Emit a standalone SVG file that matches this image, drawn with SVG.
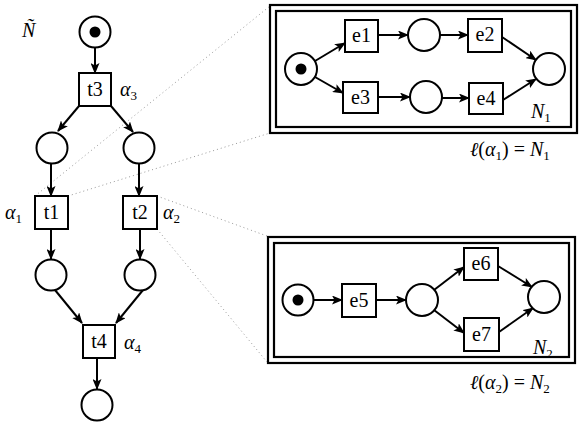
<svg xmlns="http://www.w3.org/2000/svg" width="581" height="427" viewBox="0 0 581 427">
<style>
.pl{fill:#fff;stroke:#000;stroke-width:2}
.tr{fill:#fff;stroke:#000;stroke-width:2}
.tk{fill:#000}
.lb{font-family:"Liberation Serif","DejaVu Serif",serif;font-size:20px;fill:#000;text-anchor:middle}
.m{font-family:"Liberation Serif","DejaVu Serif",serif;font-size:20px;font-style:italic;fill:#000}
.r{font-family:"Liberation Serif","DejaVu Serif",serif;font-size:20px;fill:#000}
.sub{font-size:13px;font-style:normal}
.e{fill:none;stroke:#000;stroke-width:2;marker-end:url(#ah)}
.d{fill:none;stroke:#999;stroke-width:1;stroke-dasharray:1 3}
.fr{fill:none;stroke:#000;stroke-width:2.2}
</style>
<defs>
<marker id="ah" markerUnits="userSpaceOnUse" markerWidth="11" markerHeight="9" refX="10" refY="4.5" orient="auto">
<path d="M0,0 L11,4.5 L0,9 L2.5,4.5 z" fill="#000"/>
</marker>
</defs>
<rect width="581" height="427" fill="#fff"/>

<g id="dotted">
<line class="d" x1="35" y1="196" x2="270" y2="6"/>
<line class="d" x1="68" y1="196" x2="270" y2="133"/>
<line class="d" x1="157" y1="196" x2="267" y2="236"/>
<line class="d" x1="157" y1="229" x2="267" y2="362"/>
</g>

<g id="frames">
<rect class="fr" x="270" y="5" width="307" height="128"/>
<rect class="fr" x="276" y="11" width="295" height="116"/>
<rect class="fr" x="268" y="237" width="307" height="126"/>
<rect class="fr" x="274" y="243" width="295" height="114"/>
</g>

<g id="connectors">
<line class="e" x1="95" y1="48" x2="95" y2="73"/>
<line class="e" x1="79" y1="106" x2="58" y2="131"/>
<line class="e" x1="111" y1="106" x2="133" y2="132"/>
<line class="e" x1="51" y1="164" x2="51" y2="196"/>
<line class="e" x1="139" y1="164" x2="139" y2="196"/>
<line class="e" x1="51" y1="229" x2="51" y2="259"/>
<line class="e" x1="140" y1="229" x2="140" y2="259"/>
<line class="e" x1="55" y1="290" x2="82" y2="323"/>
<line class="e" x1="143" y1="290" x2="116" y2="323"/>
<line class="e" x1="97" y1="358" x2="97" y2="389"/>

<line class="e" x1="315" y1="61" x2="345" y2="43"/>
<line class="e" x1="315" y1="77" x2="343" y2="93"/>
<line class="e" x1="378" y1="35" x2="408" y2="35"/>
<line class="e" x1="440" y1="35" x2="468" y2="35"/>
<line class="e" x1="502" y1="37" x2="536" y2="60"/>
<line class="e" x1="378" y1="97" x2="410" y2="97"/>
<line class="e" x1="442" y1="98" x2="469" y2="98"/>
<line class="e" x1="503" y1="100" x2="536" y2="79"/>

<line class="e" x1="313" y1="300" x2="342" y2="300"/>
<line class="e" x1="376" y1="300" x2="406" y2="300"/>
<line class="e" x1="434" y1="290" x2="464" y2="267"/>
<line class="e" x1="434" y1="310" x2="464" y2="333"/>
<line class="e" x1="498" y1="266" x2="532" y2="287"/>
<line class="e" x1="499" y1="332" x2="533" y2="308"/>
</g>

<g id="p0"><circle class="pl" cx="95" cy="32" r="15.5"/><circle class="tk" cx="95" cy="32" r="5.5"/></g>
<g id="t3"><rect class="tr" x="79" y="73" width="32" height="33"/><text class="lb" x="95" y="96">t3</text></g>
<g id="p1"><circle class="pl" cx="52" cy="148" r="15.5"/></g>
<g id="p2"><circle class="pl" cx="139" cy="148" r="15.5"/></g>
<g id="t1"><rect class="tr" x="35" y="196" width="33" height="33"/><text class="lb" x="51.5" y="219">t1</text></g>
<g id="t2"><rect class="tr" x="123" y="196" width="34" height="33"/><text class="lb" x="140" y="219">t2</text></g>
<g id="p3"><circle class="pl" cx="51" cy="275" r="15.5"/></g>
<g id="p4"><circle class="pl" cx="140" cy="275" r="15.5"/></g>
<g id="t4"><rect class="tr" x="83" y="325" width="32" height="33"/><text class="lb" x="99" y="348">t4</text></g>
<g id="p5"><circle class="pl" cx="97" cy="405" r="15.5"/></g>

<g id="n1p0"><circle class="pl" cx="301" cy="69" r="16"/><circle class="tk" cx="301" cy="69" r="5.5"/></g>
<g id="e1"><rect class="tr" x="345" y="20" width="33" height="32"/><text class="lb" x="361.5" y="42">e1</text></g>
<g id="n1p1"><circle class="pl" cx="424" cy="35" r="16"/></g>
<g id="e2"><rect class="tr" x="468" y="19" width="34" height="33"/><text class="lb" x="485" y="41">e2</text></g>
<g id="n1p3"><circle class="pl" cx="549" cy="69" r="16"/></g>
<g id="e3"><rect class="tr" x="343" y="82" width="35" height="31"/><text class="lb" x="360.5" y="104">e3</text></g>
<g id="n1p2"><circle class="pl" cx="426" cy="97" r="16"/></g>
<g id="e4"><rect class="tr" x="469" y="83" width="34" height="31"/><text class="lb" x="486" y="105">e4</text></g>

<g id="n2p0"><circle class="pl" cx="298" cy="300" r="15.5"/><circle class="tk" cx="298" cy="300" r="5.5"/></g>
<g id="e5"><rect class="tr" x="342" y="284" width="34" height="33"/><text class="lb" x="359" y="307">e5</text></g>
<g id="n2p1"><circle class="pl" cx="422" cy="300" r="16"/></g>
<g id="e6"><rect class="tr" x="464" y="248" width="34" height="32"/><text class="lb" x="481" y="270">e6</text></g>
<g id="e7"><rect class="tr" x="464" y="318" width="35" height="33"/><text class="lb" x="481.5" y="341">e7</text></g>
<g id="n2p2"><circle class="pl" cx="544" cy="297" r="16"/></g>

<g id="labels">
<text class="m" x="22" y="37">Ñ</text>
<text class="m" x="120" y="96">α<tspan class="sub" dy="4">3</tspan></text>
<text class="m" x="5" y="219">α<tspan class="sub" dy="4">1</tspan></text>
<text class="m" x="163" y="219">α<tspan class="sub" dy="4">2</tspan></text>
<text class="m" x="124" y="349">α<tspan class="sub" dy="4">4</tspan></text>
<text class="m" x="531" y="118">N<tspan class="sub" dy="4">1</tspan></text>
<text class="m" x="533" y="354">N<tspan class="sub" dy="4">2</tspan></text>
<text class="r" x="470" y="156"><tspan font-style="italic">ℓ</tspan>(<tspan font-style="italic">α</tspan><tspan class="sub" dy="4">1</tspan><tspan dy="-4">) = </tspan><tspan font-style="italic">N</tspan><tspan class="sub" dy="4">1</tspan></text>
<text class="r" x="470" y="389"><tspan font-style="italic">ℓ</tspan>(<tspan font-style="italic">α</tspan><tspan class="sub" dy="4">2</tspan><tspan dy="-4">) = </tspan><tspan font-style="italic">N</tspan><tspan class="sub" dy="4">2</tspan></text>
</g>
</svg>
